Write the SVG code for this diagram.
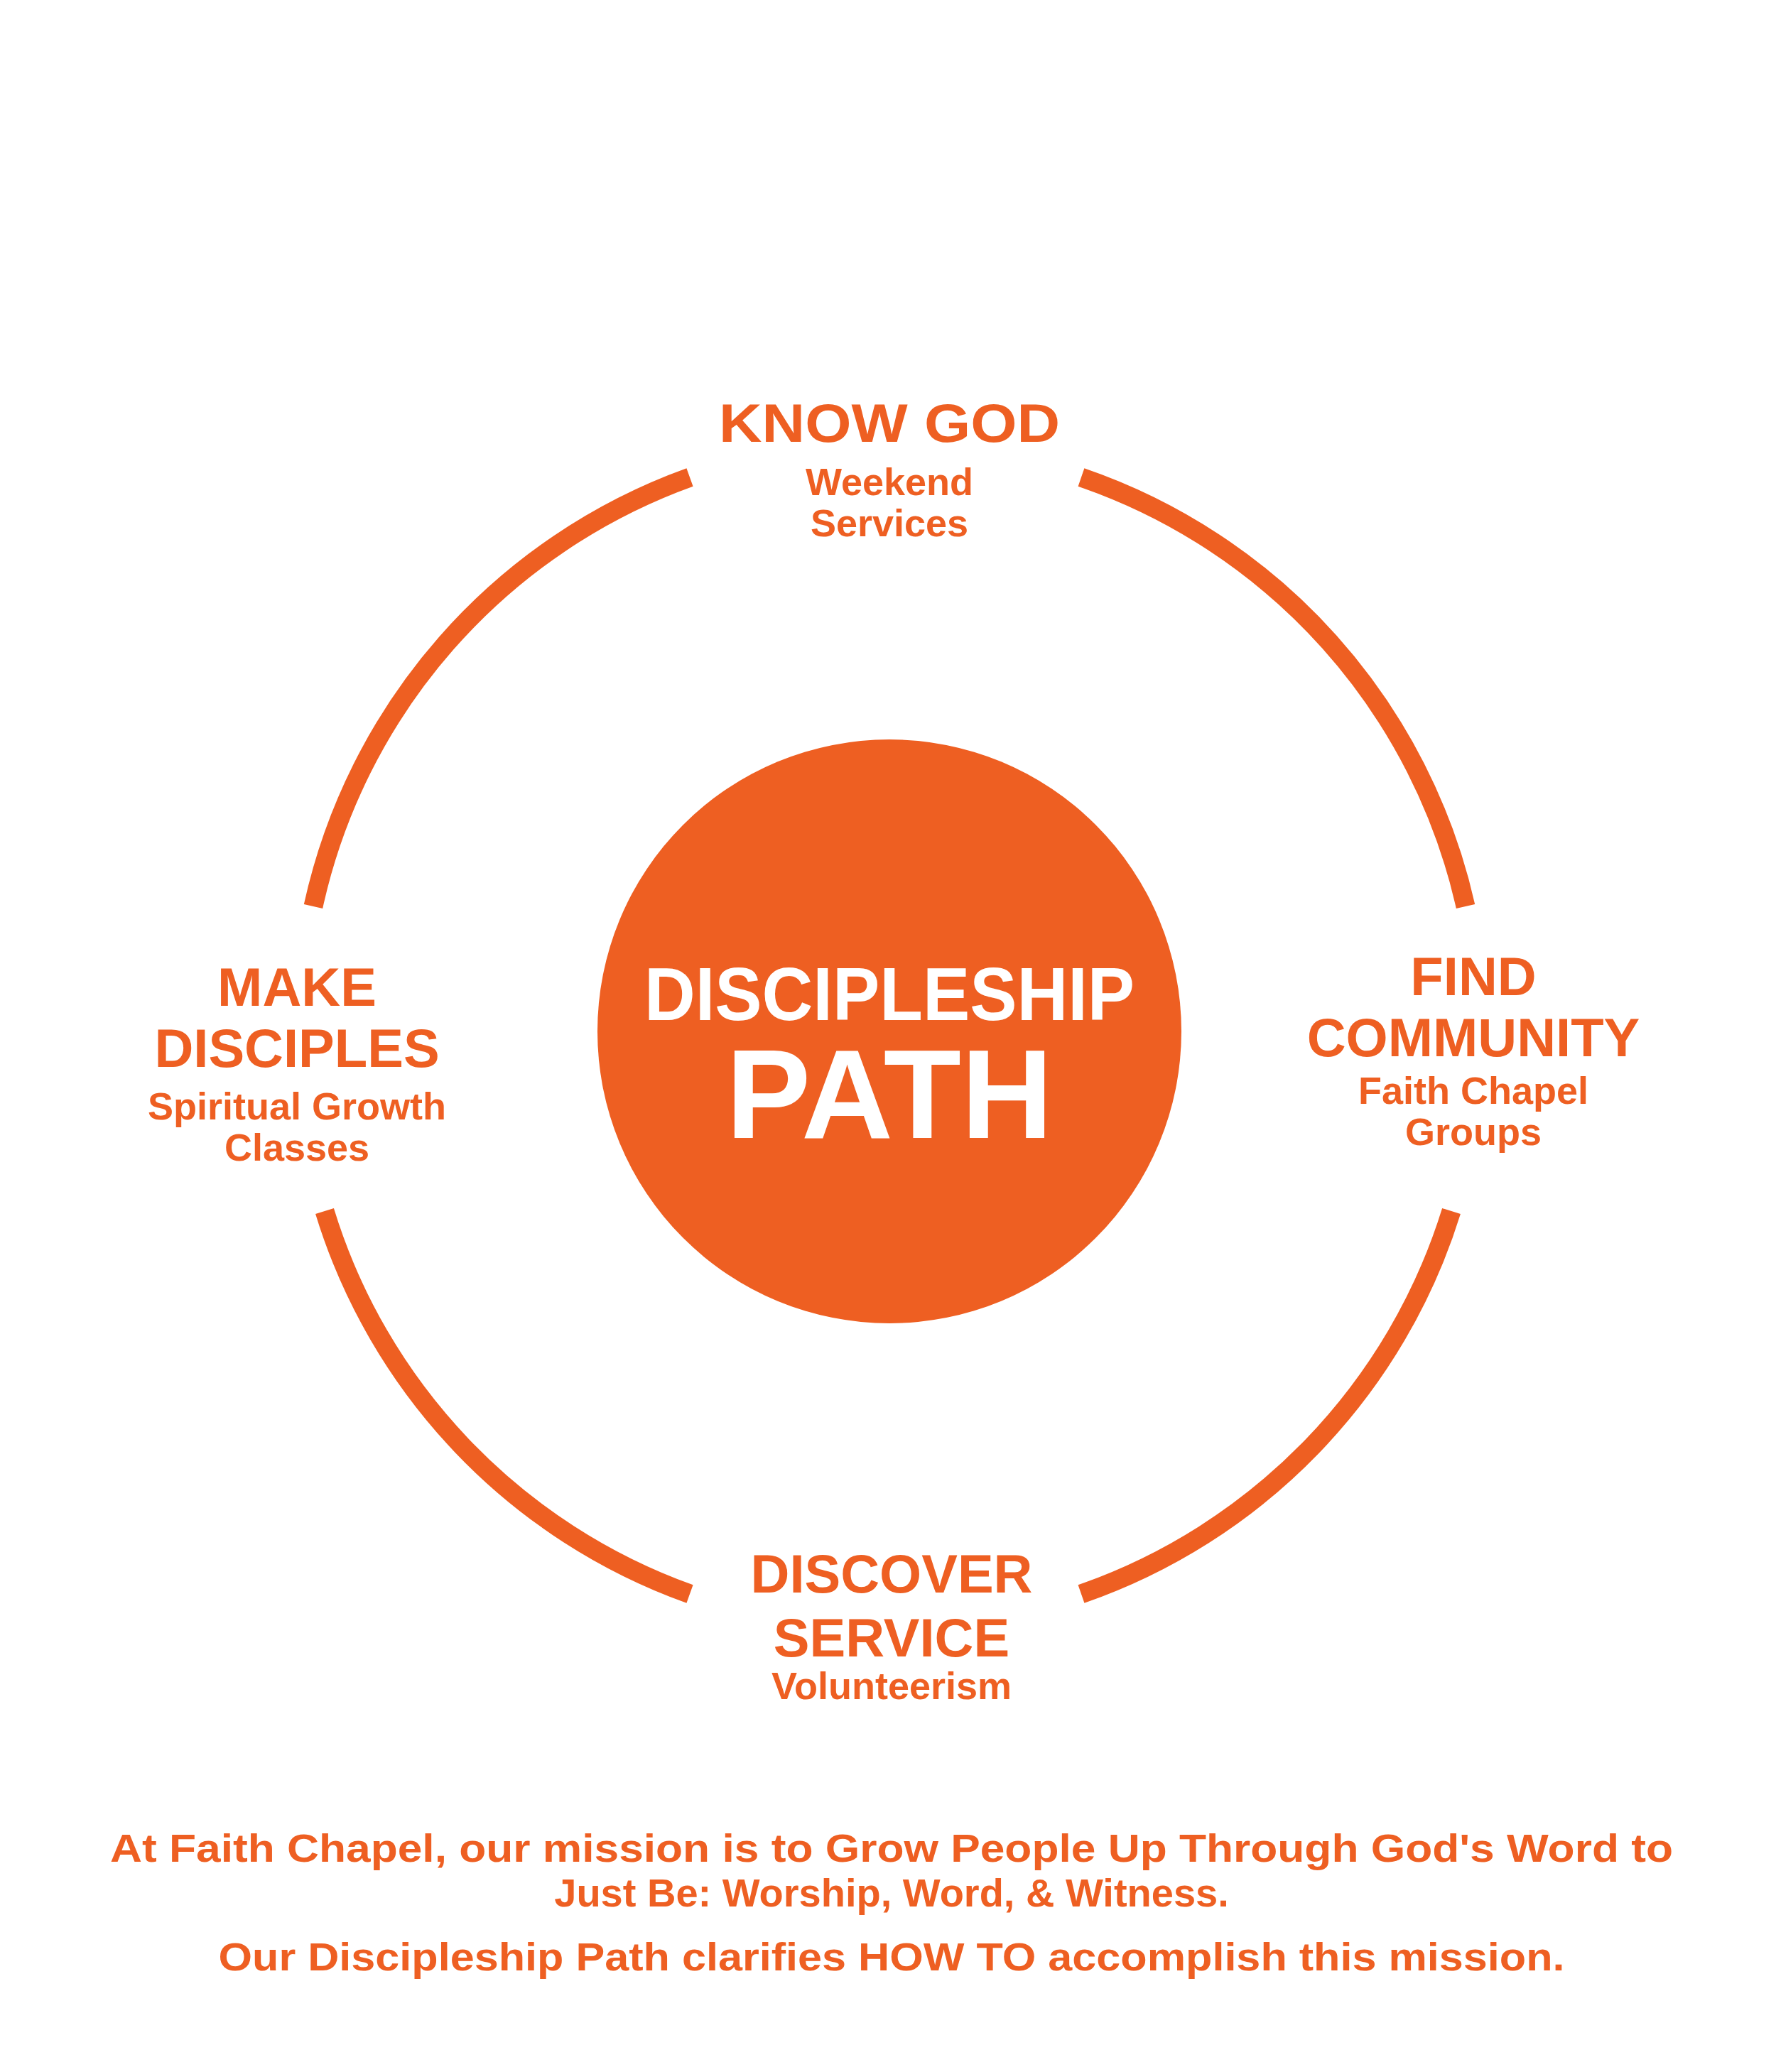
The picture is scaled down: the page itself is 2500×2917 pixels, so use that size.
<svg xmlns="http://www.w3.org/2000/svg" width="2500" height="2917" viewBox="0 0 2500 2917">
<style>
.t{font-family:"Liberation Sans",Arial,sans-serif;font-weight:700;fill:#EE5F22;text-anchor:middle}
.h{font-size:76px}.s{font-size:54px}.b{font-size:56px}
.w{fill:#fff}
</style>
<rect width="2500" height="2917" fill="#fff"/>
<g id="connectors" fill="none" stroke="#EE5F22" stroke-width="27">
<path d="M1522,672 A831,831 0 0 1 2063,1276"/>
<path d="M2043,1705 A831,831 0 0 1 1522,2244"/>
<path d="M971,2244 A831,831 0 0 1 457,1705"/>
<path d="M441,1276 A831,831 0 0 1 971,672"/>
</g>
<g id="center"><circle cx="1252" cy="1452" r="411" fill="#EE5F22"/>
<text class="t w" x="1252" y="1436" font-size="106" textLength="690" lengthAdjust="spacingAndGlyphs">DISCIPLESHIP</text>
<text class="t w" x="1252" y="1602" font-size="178" textLength="460" lengthAdjust="spacingAndGlyphs">PATH</text></g>
<g id="know"><text class="t h" x="1252" y="622" textLength="480" lengthAdjust="spacingAndGlyphs">KNOW GOD</text>
<text class="t s" x="1252" y="697">Weekend</text><text class="t s" x="1252" y="755">Services</text></g>
<g id="make"><text class="t h" x="418" y="1416">MAKE</text><text class="t h" x="418" y="1502">DISCIPLES</text>
<text class="t s" x="418" y="1576">Spiritual Growth</text><text class="t s" x="418" y="1634">Classes</text></g>
<g id="find"><text class="t h" x="2074" y="1401">FIND</text><text class="t h" x="2074" y="1487">COMMUNITY</text>
<text class="t s" x="2074" y="1554">Faith Chapel</text><text class="t s" x="2074" y="1612">Groups</text></g>
<g id="discover"><text class="t h" x="1255" y="2242">DISCOVER</text><text class="t h" x="1255" y="2332">SERVICE</text>
<text class="t s" x="1255" y="2392">Volunteerism</text></g>
<g id="mission">
<text class="t b" x="1255" y="2621" textLength="2200" lengthAdjust="spacingAndGlyphs">At Faith Chapel, our mission is to Grow People Up Through God's Word to</text>
<text class="t b" x="1255" y="2684">Just Be: Worship, Word, &amp; Witness.</text>
<text class="t b" x="1255" y="2774" textLength="1895" lengthAdjust="spacingAndGlyphs">Our Discipleship Path clarifies HOW TO accomplish this mission.</text>
</g>
</svg>
